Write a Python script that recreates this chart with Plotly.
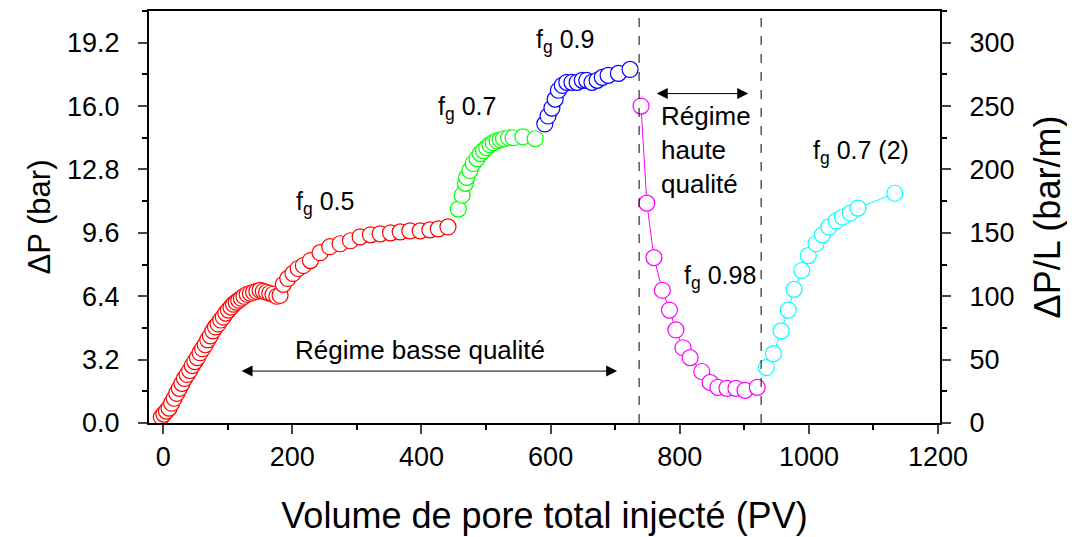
import plotly.graph_objects as go

# ---------------- data ----------------
red_x = [-3, 1, 5, 9, 13, 17, 21, 25, 29, 33, 37, 41, 45, 49, 53, 57, 61, 65, 69, 73,
         77, 81, 85, 89, 93, 97, 101, 105, 109, 113, 117, 121, 125, 130, 135, 140, 145,
         150, 155, 160, 165, 170, 176, 181, 186, 193, 201, 209, 217, 228, 243, 258, 274,
         290, 305, 321, 336, 352, 367, 382, 398, 413, 426, 441]
red_y = [0.30, 0.45, 0.60, 0.75, 1.00, 1.25, 1.50, 1.75, 2.00, 2.25, 2.45, 2.65, 2.90,
         3.10, 3.30, 3.55, 3.75, 3.95, 4.20, 4.40, 4.65, 4.85, 5.00, 5.20, 5.35, 5.55,
         5.70, 5.85, 6.00, 6.10, 6.20, 6.30, 6.40, 6.50, 6.55, 6.60, 6.65, 6.70, 6.65,
         6.60, 6.55, 6.50, 6.40, 6.45, 7.00, 7.30, 7.55, 7.80, 7.95, 8.20, 8.60, 8.90,
         9.05, 9.20, 9.40, 9.50, 9.55, 9.60, 9.65, 9.70, 9.70, 9.75, 9.80, 9.90]

green_x = [457, 463, 468, 470, 475, 480, 486, 491, 496, 501, 506, 511, 517, 522, 527,
           535, 542, 557, 576]
green_y = [10.8, 11.5, 12.1, 12.4, 12.75, 13.1, 13.35, 13.6, 13.75, 13.9, 14.05, 14.15,
           14.25, 14.3, 14.35, 14.4, 14.4, 14.45, 14.35]

blue_x = [591, 596, 602, 607, 612, 618, 625, 633, 641, 649, 656, 664, 672, 680, 689,
          705, 723]
blue_y = [15.1, 15.5, 15.9, 16.35, 16.8, 17.05, 17.2, 17.2, 17.2, 17.3, 17.3, 17.2,
          17.3, 17.45, 17.55, 17.65, 17.85]

mag_x = [740, 749, 760, 773, 784, 794, 805, 816, 834, 847, 859, 873, 887, 901, 920]
mag_y = [16.0, 11.1, 8.35, 6.7, 5.7, 4.7, 3.8, 3.3, 2.6, 2.05, 1.8, 1.75, 1.75, 1.65, 1.8]

cyan_x = [934, 945, 957, 968, 977, 989, 999, 1011, 1021, 1031, 1042, 1052, 1064, 1076, 1133]
cyan_y = [2.8, 3.5, 4.65, 5.7, 6.75, 7.7, 8.45, 9.05, 9.5, 9.9, 10.2, 10.4, 10.6, 10.85, 11.6]

series = [
    (red_x, red_y, "#FF0000"),
    (green_x, green_y, "#00FF00"),
    (blue_x, blue_y, "#0000FF"),
    (mag_x, mag_y, "#FF00FF"),
    (cyan_x, cyan_y, "#00FFFF"),
]

regime_lines_x = [737, 926]

labels = [
    ("f<sub>g</sub> 0.5", 251, 11.1),
    ("f<sub>g</sub> 0.7", 471, 15.9),
    ("f<sub>g</sub> 0.9", 622, 19.3),
    ("f<sub>g</sub> 0.98", 862, 7.36),
    ("f<sub>g</sub> 0.7 (2)", 1081, 13.66),
]

FONT = "Arial, Liberation Sans, sans-serif"
L_M = 0.064  # bar -> bar/m factor (1/L)

fig = go.Figure()
for xs, ys, col in series:
    fig.add_trace(go.Scatter(
        x=xs, y=ys, mode="lines+markers",
        line=dict(color=col, width=1),
        marker=dict(symbol="circle", size=16, color="white",
                    line=dict(color=col, width=1.2)),
        showlegend=False, hoverinfo="skip"))

# invisible trace for the right axis
fig.add_trace(go.Scatter(x=[0], y=[0], yaxis="y2", mode="markers",
                         marker=dict(opacity=0), showlegend=False, hoverinfo="skip"))

for xv in regime_lines_x:
    fig.add_shape(type="line", x0=xv, x1=xv, y0=0, y1=1, xref="x", yref="paper",
                  line=dict(color="black", width=1, dash="dash"))

for txt, xv, yv in labels:
    fig.add_annotation(x=xv, y=yv, text=txt, showarrow=False,
                       font=dict(family=FONT, size=25, color="black"))

fig.add_annotation(x=398, y=3.68, text="Régime basse qualité", showarrow=False,
                   font=dict(family=FONT, size=26, color="black"))
fig.add_annotation(x=768, y=13.76, text="Régime<br>haute<br>qualité", showarrow=False,
                   xanchor="left", align="left",
                   font=dict(family=FONT, size=26, color="black"))

# double headed arrows
for x0, x1, yv in [(119, 703, 2.62), (762, 906, 16.63)]:
    fig.add_annotation(x=x1, y=yv, ax=x0, ay=yv, xref="x", yref="y", axref="x", ayref="y",
                       text="", showarrow=True, arrowhead=2, arrowside="end+start",
                       arrowsize=2.2, arrowwidth=1, arrowcolor="black")

tickfont = dict(family=FONT, size=27, color="black")
fig.update_layout(
    width=1067, height=529,
    margin=dict(l=141, r=135, t=3, b=114, autoexpand=False),
    paper_bgcolor="white", plot_bgcolor="white",
    xaxis=dict(range=[-22, 1203], tickvals=[0, 200, 400, 600, 800, 1000, 1200],
               ticks="outside", ticklen=9, tickwidth=2, showline=True, linewidth=2,
               linecolor="black", mirror=True, showgrid=False, zeroline=False,
               automargin=False,
               minor=dict(dtick=100, tick0=0, ticks="outside", ticklen=5, tickwidth=1.5,
                          tickcolor="black"),
               tickfont=tickfont,
               title=dict(text="Volume de pore total injecté (PV)",
                          font=dict(family=FONT, size=36, color="black"), standoff=31)),
    yaxis=dict(range=[0, 20.8], tick0=0, dtick=3.2, tickformat=".1f",
               ticks="outside", ticklen=9, tickwidth=2, showline=True, linewidth=2,
               linecolor="black", showgrid=False, zeroline=False, automargin=False,
               ticklabelstandoff=13,
               minor=dict(dtick=1.6, tick0=0, ticks="outside", ticklen=5, tickwidth=1.5,
                          tickcolor="black"),
               tickfont=tickfont,
               title=dict(text="ΔP (bar)", font=dict(family=FONT, size=31, color="black"),
                          standoff=7)),
    yaxis2=dict(range=[0, 20.8 / L_M], overlaying="y", side="right", tick0=0, dtick=50,
                ticks="outside", ticklen=9, tickwidth=2, showline=True, linewidth=2,
                linecolor="black", showgrid=False, zeroline=False, automargin=False,
                ticklabelstandoff=13,
                minor=dict(dtick=25, tick0=0, ticks="outside", ticklen=5, tickwidth=1.5,
                           tickcolor="black"),
                tickfont=tickfont,
                title=dict(text="ΔP/L (bar/m)", font=dict(family=FONT, size=36, color="black"),
                           standoff=21)),
)

fig.write_html("out.html")
